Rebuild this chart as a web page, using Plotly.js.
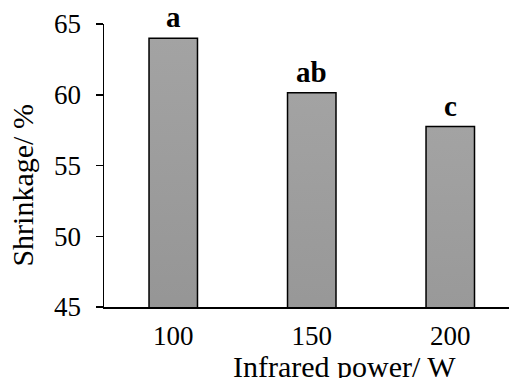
<!DOCTYPE html>
<html>
<head>
<meta charset="utf-8">
<script src="https://cdn.plot.ly/plotly-3.0.1.min.js"></script>
<style>html,body{margin:0;padding:0;background:#fff;}</style>
</head>
<body>
<svg width="0" height="0" style="position:absolute">
  <defs>
    <linearGradient id="barGrad" x1="0" y1="0" x2="0" y2="1">
      <stop offset="0" stop-color="#a3a3a3"/>
      <stop offset="1" stop-color="#767676"/>
    </linearGradient>
  </defs>
</svg>
<div id="chart" style="width:509px;height:378px;"></div>
<script>
const categories = ["100", "150", "200"];
const shrinkage = [64.0, 60.15, 57.75];
const letters = ["a", "ab", "c"];
const yTicks = [45, 50, 55, 60, 65];
const xTitle = "Infrared power/ W";
const yTitle = "Shrinkage/ %";

const font = "Liberation Serif";

const trace = {
  type: "bar",
  x: categories,
  y: shrinkage,
  width: 0.35,
  marker: { color: "#8c8c8c", line: { color: "#000", width: 1.5 } },
  hoverinfo: "none"
};

const annotations = categories.map((c, i) => ({
  x: i, y: shrinkage[i], xref: "x", yref: "y",
  text: "<b>" + letters[i] + "</b>", showarrow: false,
  yanchor: "bottom", yshift: 3,
  font: { family: font, size: 29, color: "#000" }
}));
annotations.push({
  xref: "paper", yref: "paper", x: 0.5926, y: -0.2106,
  xanchor: "center", yanchor: "middle", showarrow: false,
  text: xTitle, font: { family: font, size: 30, color: "#000" }
});
annotations.push({
  xref: "paper", yref: "paper", x: -0.2, y: 0.429,
  xanchor: "center", yanchor: "middle", showarrow: false, textangle: -90,
  text: yTitle, font: { family: font, size: 30, color: "#000" }
});

const layout = {
  width: 509, height: 378,
  margin: { l: 104, r: 0, t: 24, b: 71 },
  paper_bgcolor: "#fff", plot_bgcolor: "#fff",
  showlegend: false,
  font: { family: font, size: 27, color: "#000" },
  xaxis: {
    type: "category", range: [-0.5, 2.424],
    showline: true, linecolor: "#000", linewidth: 1.5,
    ticks: "", ticklen: 0, showgrid: false, zeroline: false, ticklabelstandoff: 4,
    tickfont: { family: font, size: 27, color: "#000" }
  },
  yaxis: {
    range: [45, 65], tickvals: yTicks,
    showline: true, linecolor: "#000", linewidth: 1.5,
    ticks: "outside", ticklen: 7, tickwidth: 1.5, tickcolor: "#000",
    showgrid: false, zeroline: false, ticklabelstandoff: 9,
    tickfont: { family: font, size: 27, color: "#000" }
  },
  annotations: annotations
};

Plotly.newPlot("chart", [trace], layout, { staticPlot: true, displayModeBar: false }).then(gd => {
  gd.querySelectorAll(".bars .point path").forEach(p => {
    p.style.fill = "url(#barGrad)";
    p.setAttribute("fill", "url(#barGrad)");
  });
});
</script>
</body>
</html>
